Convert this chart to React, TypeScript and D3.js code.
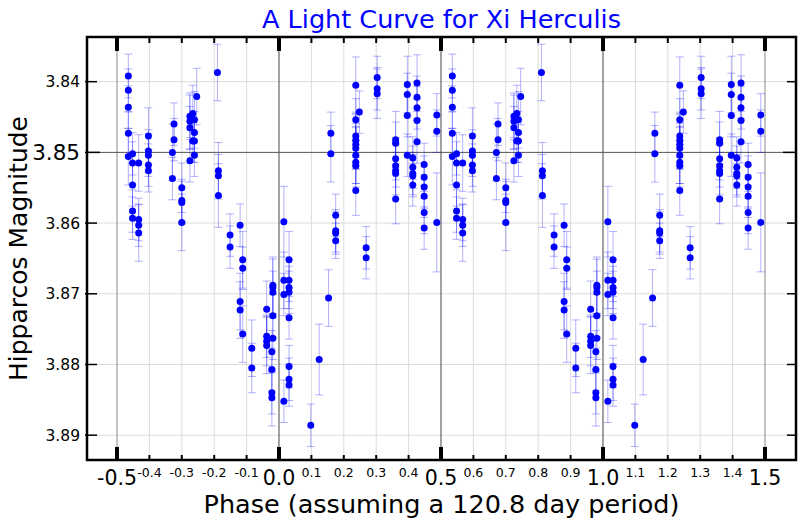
import React from 'react';
import { scaleLinear } from 'd3';

const chartTitle = 'A Light Curve for Xi Herculis';
const xTitle = 'Phase (assuming a 120.8 day period)';
const yTitle = 'Hipparcos Magnitude';

// one cycle of phases (-0.5 .. 0.5); it is drawn again shifted by +1
const phases = [
  -0.465, -0.465, -0.465, -0.465, -0.465,
  -0.452, -0.452, -0.452, -0.452, -0.452,
  -0.433, -0.433, -0.433, -0.433,
  -0.403, -0.403, -0.403, -0.403, -0.403,
  -0.324, -0.324, -0.329, -0.329,
  -0.3, -0.3, -0.3, -0.3,
  -0.275, -0.275, -0.275, -0.275, -0.266, -0.266,
  -0.261, -0.261, -0.261, -0.261, -0.254,
  -0.19, -0.187, -0.187, -0.187,
  -0.151, -0.151,
  -0.12, -0.12, -0.12, -0.112, -0.112, -0.112,
  -0.084, -0.084,
  -0.038, -0.038, -0.038, -0.038,
  -0.019, -0.019, -0.019, -0.019, -0.019,
  -0.022, -0.022, -0.022, -0.022,
  0.015, 0.015, 0.015, 0.015,
  0.031, 0.031, 0.031, 0.031, 0.031, 0.031, 0.031, 0.031,
  0.098, 0.124, 0.153,
  0.16, 0.16,
  0.175, 0.175, 0.175, 0.175,
  0.237, 0.237, 0.237, 0.237, 0.237, 0.237, 0.237, 0.237, 0.237, 0.237, 0.248,
  0.269, 0.269,
  0.303, 0.303, 0.303,
  0.36, 0.36, 0.36, 0.36, 0.36, 0.36, 0.36,
  0.396, 0.396, 0.396, 0.396,
  0.413, 0.413, 0.413, 0.413, 0.413,
  0.426, 0.426, 0.426, 0.426, 0.426,
  0.448, 0.448, 0.448, 0.448, 0.448, 0.448,
  0.487, 0.487, 0.487,
];

const mags = [
  3.8392, 3.8412, 3.8436, 3.8473, 3.8506,
  3.8502, 3.8515, 3.8546, 3.8583, 3.8593,
  3.8515, 3.8595, 3.8603, 3.8614,
  3.8477, 3.8498, 3.8504, 3.8518, 3.8526,
  3.846, 3.8482, 3.85, 3.8537,
  3.855, 3.8568, 3.8571, 3.8599,
  3.8449, 3.8456, 3.8465, 3.8512, 3.8445, 3.8484,
  3.8454, 3.8472, 3.8484, 3.8504, 3.8421,
  3.8387, 3.8526, 3.8533, 3.8561,
  3.8617, 3.8634,
  3.8603, 3.8711, 3.8723, 3.8652, 3.8664, 3.8757,
  3.8777, 3.8805,
  3.8722, 3.876, 3.8767, 3.8773,
  3.8688, 3.8691, 3.8698, 3.8731, 3.8763,
  3.8782, 3.8807, 3.884, 3.8847,
  3.8598, 3.8681, 3.8701, 3.8852,
  3.8652, 3.8681, 3.8691, 3.8698, 3.8734, 3.8803, 3.8821, 3.8829,
  3.8886, 3.8793, 3.8706,
  3.8473, 3.8502,
  3.8589, 3.8611, 3.8614, 3.8625,
  3.8405, 3.8454, 3.8477, 3.8483, 3.8489, 3.8494, 3.8504, 3.8514, 3.8519, 3.8554, 3.8443,
  3.8635, 3.8649,
  3.8394, 3.841, 3.8417,
  3.8482, 3.8487, 3.8509, 3.8519, 3.8526, 3.853, 3.8566,
  3.8404, 3.8418, 3.8448, 3.8504,
  3.8508, 3.8521, 3.853, 3.8533, 3.8546,
  3.8402, 3.8422, 3.8437, 3.8455, 3.8485,
  3.8517, 3.8535, 3.8549, 3.8562, 3.8585, 3.8607,
  3.8447, 3.847, 3.8599,
];

const errs = [
  0.0031, 0.003, 0.003, 0.003, 0.004,
  0.003, 0.003, 0.003, 0.003, 0.003,
  0.004, 0.003, 0.003, 0.004,
  0.004, 0.003, 0.003, 0.003, 0.003,
  0.003, 0.003, 0.004, 0.003,
  0.0035, 0.003, 0.003, 0.004,
  0.003, 0.004, 0.003, 0.003, 0.004, 0.003,
  0.004, 0.003, 0.003, 0.003, 0.004,
  0.004, 0.004, 0.003, 0.0045,
  0.003, 0.003,
  0.003, 0.004, 0.004, 0.004, 0.003, 0.004,
  0.004, 0.0035,
  0.004, 0.003, 0.0035, 0.004,
  0.004, 0.004, 0.003, 0.003, 0.003,
  0.003, 0.003, 0.003, 0.004,
  0.005, 0.004, 0.003, 0.003,
  0.004, 0.003, 0.003, 0.003, 0.003, 0.003, 0.003, 0.003,
  0.003, 0.005, 0.004,
  0.003, 0.004,
  0.003, 0.003, 0.003, 0.0025,
  0.004, 0.003, 0.003, 0.004, 0.003, 0.003, 0.004, 0.003, 0.003, 0.0035, 0.003,
  0.003, 0.003,
  0.003, 0.003, 0.0035,
  0.004, 0.003, 0.003, 0.003, 0.004, 0.003, 0.0035,
  0.004, 0.003, 0.003, 0.003,
  0.003, 0.003, 0.003, 0.003, 0.003,
  0.004, 0.003, 0.003, 0.003, 0.003,
  0.003, 0.003, 0.003, 0.003, 0.003, 0.003,
  0.003, 0.003, 0.007,
];

const majorXTicks = [-0.5, 0, 0.5, 1, 1.5];
const minorXTicks = [-0.4, -0.3, -0.2, -0.1, 0.1, 0.2, 0.3, 0.4, 0.6, 0.7, 0.8, 0.9, 1.1, 1.2, 1.3, 1.4];
const yTicks = [3.84, 3.85, 3.86, 3.87, 3.88, 3.89];
const majorYTicks = [3.85];

const W = 800;
const H = 520;
const left = 87, right = 796, top = 37, bottom = 460;
const font = '"DejaVu Sans", sans-serif';

const x = scaleLinear().domain([-0.5926, 1.5957]).range([left, right]);
const y = scaleLinear().domain([3.83368, 3.89351]).range([top, bottom]);

export default function App() {
  const pts = phases.flatMap((p, i) => [0, 1].map(k => ({ p: p + k, m: mags[i], e: errs[i] })));

  return (
    <svg width={W} height={H} style={{ position: 'absolute', left: 0, top: 0, background: '#fff' }}>
      <rect width={W} height={H} fill="#fff" />

      {/* light grid */}
      {minorXTicks.map(t => (
        <line key={'gx' + t} x1={x(t)} x2={x(t)} y1={top} y2={bottom} stroke="#dcdcdc" strokeWidth={1} />
      ))}
      {yTicks.filter(t => !majorYTicks.includes(t)).map(t => (
        <line key={'gy' + t} x1={left} x2={right} y1={y(t)} y2={y(t)} stroke="#dcdcdc" strokeWidth={1} />
      ))}
      {/* darker grid at major ticks */}
      {majorXTicks.map(t => (
        <line key={'mx' + t} x1={x(t)} x2={x(t)} y1={top} y2={bottom}
          stroke={t === -0.5 || t === 1.5 ? '#8a8a8a' : '#444'} strokeWidth={1} />
      ))}
      {majorYTicks.map(t => (
        <line key={'my' + t} x1={left} x2={right} y1={y(t)} y2={y(t)} stroke="#555" strokeWidth={1} />
      ))}

      {/* error bars */}
      <g stroke="#0000ff" strokeOpacity={0.3} strokeWidth={1}>
        {pts.map((d, i) => {
          const cx = x(d.p);
          const y0 = y(d.m - d.e);
          const y1 = y(d.m + d.e);
          return (
            <g key={'e' + i}>
              <line x1={cx} x2={cx} y1={y0} y2={y1} />
              <line x1={cx - 4} x2={cx + 4} y1={y0} y2={y0} />
              <line x1={cx - 4} x2={cx + 4} y1={y1} y2={y1} />
            </g>
          );
        })}
      </g>

      {/* points */}
      {pts.map((d, i) => (
        <circle key={'p' + i} cx={x(d.p)} cy={y(d.m)} r={3.5} fill="#0000ff" />
      ))}

      {/* frame */}
      <rect x={left} y={top} width={right - left} height={bottom - top} fill="none" stroke="#000" strokeWidth={2.5} />

      {/* x ticks, top and bottom, pointing inward */}
      {majorXTicks.map(t => (
        <g key={'tx' + t} stroke="#000" strokeWidth={4}>
          <line x1={x(t)} x2={x(t)} y1={top} y2={top + 14} />
          <line x1={x(t)} x2={x(t)} y1={bottom} y2={bottom - 13} />
        </g>
      ))}
      {minorXTicks.map(t => (
        <g key={'tm' + t} stroke="#000" strokeWidth={2}>
          <line x1={x(t)} x2={x(t)} y1={top} y2={top + 6} />
          <line x1={x(t)} x2={x(t)} y1={bottom} y2={bottom - 5} />
        </g>
      ))}

      {/* y ticks, left and right */}
      {yTicks.map(t => {
        const major = majorYTicks.includes(t);
        return (
          <g key={'ty' + t} stroke="#000" strokeWidth={1.5}>
            <line x1={left - 2} x2={left + (major ? 13 : 10)} y1={y(t)} y2={y(t)} />
            <line x1={right - (major ? 13 : 9)} x2={right} y1={y(t)} y2={y(t)} />
          </g>
        );
      })}

      {/* tick labels */}
      <g fontFamily={font} fill="#000">
        {majorXTicks.map(t => (
          <text key={'lx' + t} x={x(t)} y={485} fontSize={20.5} textAnchor="middle">{t.toFixed(1)}</text>
        ))}
        {minorXTicks.map(t => (
          <text key={'lm' + t} x={x(t)} y={477} fontSize={12.5} textAnchor="middle">{t.toFixed(1)}</text>
        ))}
        {yTicks.map(t => {
          const major = majorYTicks.includes(t);
          return (
            <text key={'ly' + t} x={80} y={y(t)} dy={major ? 7.5 : 5.5} fontSize={major ? 21.5 : 15.5} textAnchor="end">
              {t.toFixed(2)}
            </text>
          );
        })}
      </g>

      {/* titles */}
      <text x={(left + right) / 2} y={28} fontFamily={font} fontSize={25.5} fill="#0000ff" textAnchor="middle">
        {chartTitle}
      </text>
      <text x={(left + right) / 2} y={513} fontFamily={font} fontSize={25.5} fill="#000" textAnchor="middle">
        {xTitle}
      </text>
      <text transform={`translate(27,${(top + bottom) / 2}) rotate(-90)`} fontFamily={font} fontSize={25} fill="#000" textAnchor="middle">
        {yTitle}
      </text>
    </svg>
  );
}
